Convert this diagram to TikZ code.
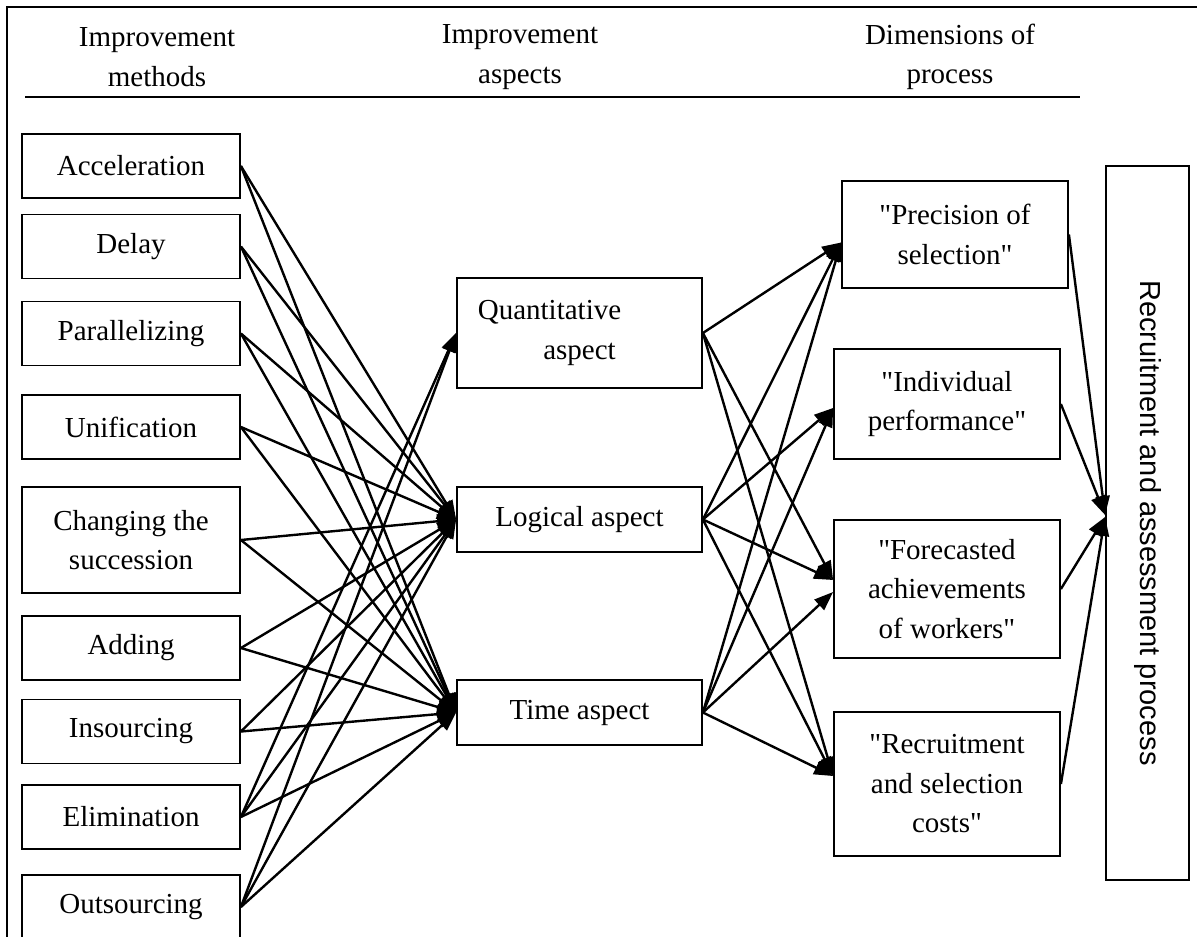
\documentclass[tikz,border=0pt]{standalone}
\usepackage{fontspec}
\setmainfont{Liberation Serif}
\newfontfamily\arialfont{Liberation Sans}
\newcommand\straightquote{\XeTeXglyph\XeTeXcharglyph"0022 \relax}
\usetikzlibrary{arrows.meta,calc}
\begin{document}
\begin{tikzpicture}[x=1pt,y=-1pt,
  txt/.style={font=\fontsize{29}{39.5}\selectfont},
  box/.style={draw,line width=1.8pt,inner sep=0pt,align=center,txt},
  lbox/.style={box,minimum width=218pt,minimum height=64pt},
  mbox/.style={box,minimum width=245pt,minimum height=65pt},
  rbox/.style={box,minimum width=226pt},
  hdr/.style={align=center,inner sep=0pt,txt},
  conn/.style={line width=2.4pt,-{Triangle[length=19pt,width=14pt]}}]
\clip (0,0) rectangle (1197,937);
\fill[white] (0,0) rectangle (1197,937);
% frame
\coordinate (ftr) at (1197,7);
\coordinate (ftl) at (7,7);
\coordinate (fbl) at (7,940);
\draw[line width=1.6pt] (ftr) -- (ftl) -- (fbl);
% headers
\node[hdr] (h1) at (157,57) {Improvement\\methods};
\node[hdr] (h2) at (520,57) {Improvement\\aspects};
\node[hdr] (h3) at (950,57) {Dimensions of\\process};
\coordinate (rl) at (25,97);
\coordinate (rr) at (1080,97);
\draw[line width=2.6pt] (rl) -- (rr);
% left column
\node[lbox] (acc) at (131,166) {Acceleration};
\node[lbox] (del) at (131,246.5) {Delay};
\node[lbox] (par) at (131,333.5) {Parallelizing};
\node[lbox] (uni) at (131,427) {Unification};
\node[lbox,minimum height=106pt] (chg) at (131,540) {Changing the\\succession};
\node[lbox] (add) at (131,648) {Adding};
\node[lbox] (ins) at (131,731.5) {Insourcing};
\node[lbox] (eli) at (131,817) {Elimination};
\node[lbox] (out) at (131,907) {Outsourcing};
% middle column
\node[mbox,minimum height=110pt] (qua) at (579.5,333) {Quantitative\hspace*{60pt}\\aspect};
\node[mbox] (log) at (579.5,519.5) {Logical aspect};
\node[mbox] (tim) at (579.5,712.5) {Time aspect};
% right column
\node[rbox,minimum height=107pt] (pre) at (955,234.5) {\straightquote Precision of\\selection\straightquote};
\node[rbox,minimum height=110pt] (ind) at (947,404) {\straightquote Individual\\performance\straightquote};
\node[rbox,minimum height=138pt] (for) at (947,589) {\straightquote Forecasted\\achievements\\of workers\straightquote};
\node[rbox,minimum height=144pt] (rec) at (947,784) {\straightquote Recruitment\\and selection\\costs\straightquote};
% process box
\node[draw,line width=1.8pt,minimum width=83pt,minimum height=714pt,inner sep=0pt] (proc) at (1147.5,523) {};
\node[rotate=-90,inner sep=0pt,font=\arialfont\fontsize{29}{35}\selectfont] (proctext) at (proc.center) {Recruitment and assessment process};
% left -> middle
\foreach \s in {acc,del,par,uni,chg,add,ins,eli,out}{
  \draw[conn] (\s.east) -- (log.west);
  \draw[conn] (\s.east) -- (tim.west);
}
\draw[conn] (eli.east) -- (qua.west);
\draw[conn] (out.east) -- (qua.west);
% middle -> right
\draw[conn] (qua.east) -- ($(pre.west)+(0,8)$);
\draw[conn] (log.east) -- ($(pre.west)+(0,8)$);
\draw[conn] (tim.east) -- ($(pre.west)+(0,8)$);
\draw[conn] (log.east) -- ($(ind.west)+(0,4)$);
\draw[conn] (tim.east) -- ($(ind.west)+(0,4)$);
\draw[conn] (qua.east) -- ($(for.west)+(0,-9)$);
\draw[conn] (log.east) -- ($(for.west)+(0,-9)$);
\draw[conn] (tim.east) -- ($(for.west)+(0,3)$);
\draw[conn] (qua.east) -- ($(rec.west)+(0,-8)$);
\draw[conn] (log.east) -- ($(rec.west)+(0,-8)$);
\draw[conn] (tim.east) -- ($(rec.west)+(0,-8)$);
% right -> process
\draw[conn] (pre.east) -- ($(proc.west)+(0,-8)$);
\draw[conn] (ind.east) -- ($(proc.west)+(0,-8)$);
\draw[conn] (for.east) -- ($(proc.west)+(0,-6)$);
\draw[conn] (rec.east) -- ($(proc.west)+(0,-6)$);
\end{tikzpicture}
\end{document}
